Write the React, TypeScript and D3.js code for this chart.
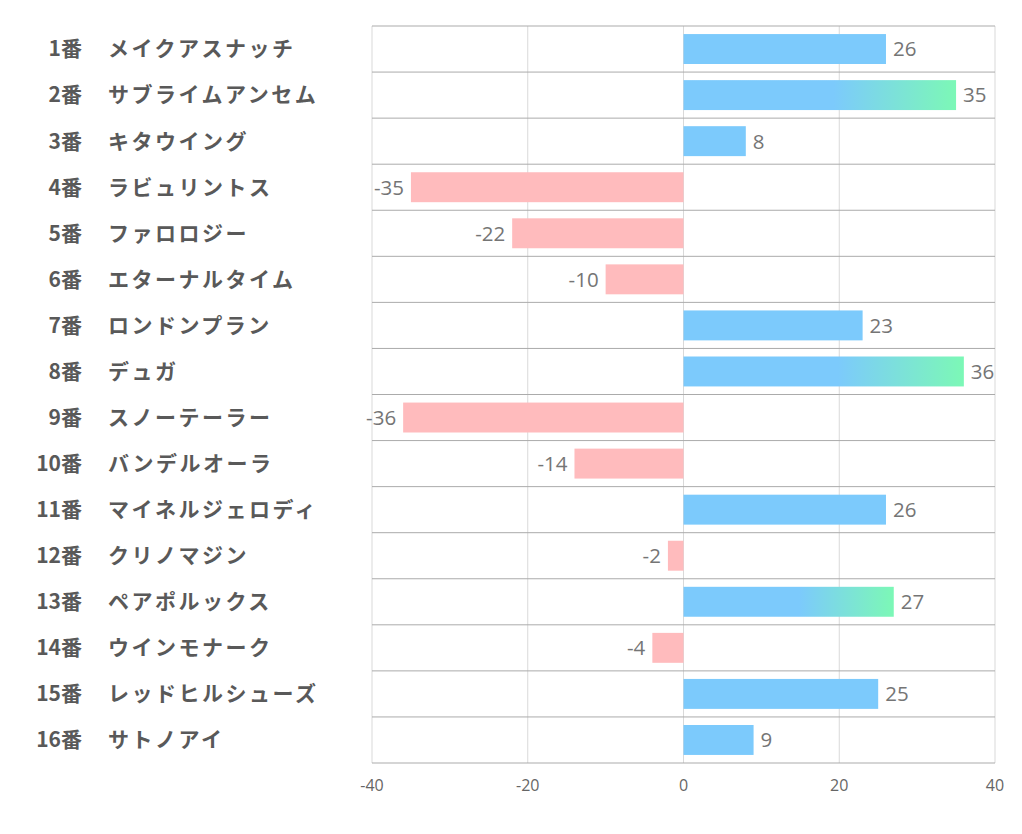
import React from "react";
import * as d3 from "d3";

const numbers = ["1番","2番","3番","4番","5番","6番","7番","8番","9番","10番","11番","12番","13番","14番","15番","16番"];
const names = ["メイクアスナッチ","サブライムアンセム","キタウイング","ラビュリントス","ファロロジー","エターナルタイム","ロンドンプラン","デュガ","スノーテーラー","バンデルオーラ","マイネルジェロディ","クリノマジン","ペアポルックス","ウインモナーク","レッドヒルシューズ","サトノアイ"];
const values = [26, 35, 8, -35, -22, -10, 23, 36, -36, -14, 26, -2, 27, -4, 25, 9];
const highlighted = [false, true, false, false, false, false, false, true, false, false, false, false, true, false, false, false];
const xTicks = [-40, -20, 0, 20, 40];

const W = 1022, H = 834;
const left = 372, right = 995, top = 26, bottom = 763;

export default function App() {
  const x = d3.scaleLinear().domain([-40, 40]).range([left, right]);
  const y = d3.scaleBand<number>().domain(d3.range(values.length)).range([top, bottom]).paddingInner(0.35).paddingOuter(0.175);
  const rowH = (bottom - top) / values.length;
  const font = "'Noto Sans CJK JP', 'Noto Sans', sans-serif";
  const numFont = "'Open Sans', 'Noto Sans', sans-serif";
  return (
    <svg width={W} height={H} style={{ position: "absolute", left: 0, top: 0, background: "#fff" }}>
      <defs>
        <linearGradient id="hl" x1="0" x2="1" y1="0" y2="0">
          <stop offset="0" stopColor="#7ccafc" />
          <stop offset="0.55" stopColor="#7ccafc" />
          <stop offset="1" stopColor="#7cf8b6" />
        </linearGradient>
      </defs>
      {xTicks.map((t) => (
        <line key={"v" + t} x1={x(t)} x2={x(t)} y1={top} y2={bottom} stroke="#d9d9d9" strokeWidth={1} />
      ))}
      {d3.range(values.length + 1).map((i) => (
        <line key={"h" + i} x1={left} x2={right} y1={top + i * rowH} y2={top + i * rowH} stroke="#ababab" strokeWidth={1} />
      ))}
      {values.map((v, i) => {
        const x0 = x(Math.min(0, v));
        const w = Math.abs(x(v) - x(0));
        const fill = v < 0 ? "#ffbbbd" : highlighted[i] ? "url(#hl)" : "#7ccafc";
        return <rect key={"b" + i} x={x0} y={y(i)!} width={w} height={y.bandwidth()} fill={fill} />;
      })}
      {values.map((v, i) => (
        <text key={"vl" + i} x={v < 0 ? x(v) - 7 : x(v) + 7} y={y(i)! + y.bandwidth() / 2} dy="0.36em"
          textAnchor={v < 0 ? "end" : "start"} fontSize={20.5} fill="#757575" fontFamily={numFont}>{v}</text>
      ))}
      {values.map((_, i) => {
        const cy = top + (i + 0.5) * rowH;
        return (
          <g key={"l" + i} fontFamily={font} fontWeight="bold" fontSize={21} fill="#595959">
            <text x={82} y={cy} dy="0.35em" textAnchor="end">{numbers[i]}</text>
            <text x={108} y={cy} dy="0.35em" letterSpacing={2.5}>{names[i]}</text>
          </g>
        );
      })}
      {xTicks.map((t) => (
        <text key={"t" + t} x={x(t)} y={785} dy="0.35em" textAnchor="middle" fontSize={16} fill="#666" fontFamily={numFont}>{t}</text>
      ))}
    </svg>
  );
}
